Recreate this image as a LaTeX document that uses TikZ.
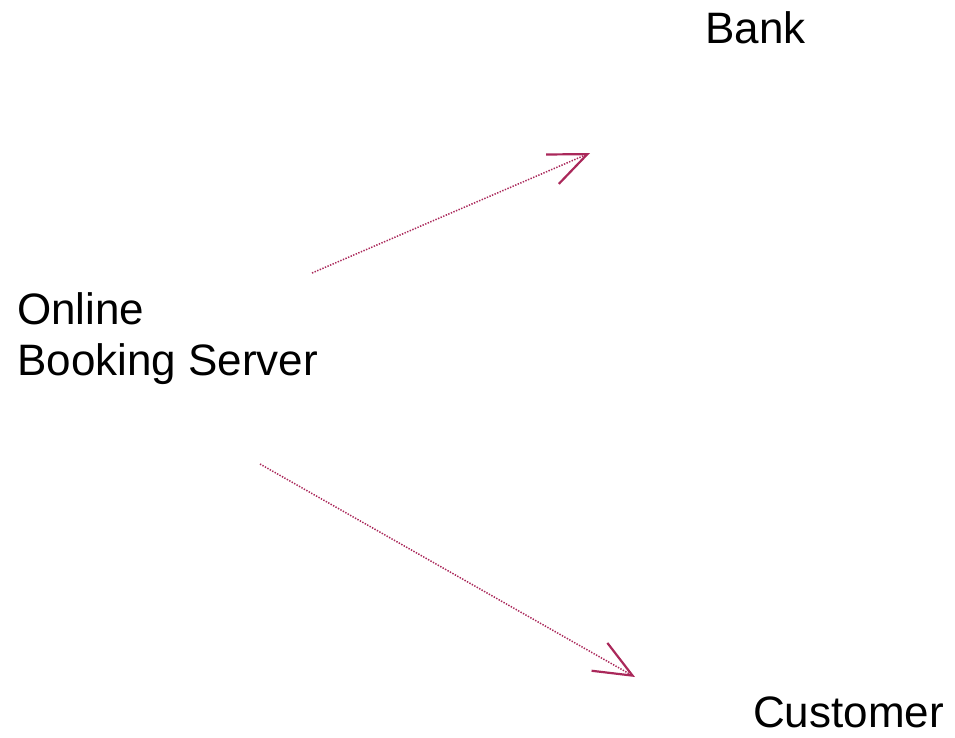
\documentclass[tikz,border=0pt]{standalone}
\usepackage{fontspec}
\setmainfont{Liberation Sans}
\usetikzlibrary{arrows.meta}
\definecolor{arrowred}{RGB}{170,40,90}
\begin{document}
\begin{tikzpicture}[x=1pt,y=-1pt,
  label/.style={inner sep=0pt, anchor=base west, font=\fontsize{44}{51}\selectfont},
  multilabel/.style={label, align=left},
  flow/.style={draw=arrowred, line width=1.5pt, dash pattern=on 1.4pt off 1.4pt,
    -{Straight Barb[length=38pt,width=32pt,line width=2.2pt]}}]
\useasboundingbox (0,0) rectangle (955,737);
\node[label] (bank) at (705,43) {Bank};
\node[multilabel] (server) at (17,375) {Online\\Booking Server};
\node[label] (customer) at (753,727) {Customer};
\coordinate (s1) at (312,273);
\coordinate (e1) at (590,153);
\coordinate (s2) at (260,464);
\coordinate (e2) at (635,677);
\draw[flow] (s1) -- (e1);
\draw[flow] (s2) -- (e2);
\end{tikzpicture}
\end{document}
